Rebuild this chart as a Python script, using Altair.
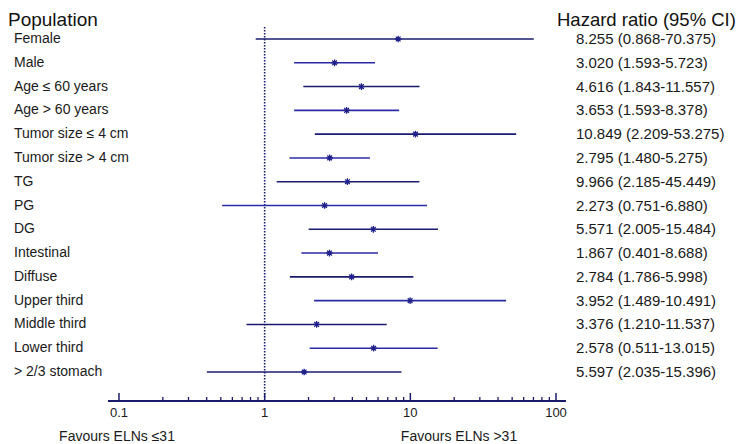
import altair as alt
import pandas as pd

# ---- data ----
labels = ["Female", "Male", "Age ≤ 60 years", "Age > 60 years", "Tumor size ≤ 4 cm",
          "Tumor size > 4 cm", "TG", "PG", "DG", "Intestinal", "Diffuse",
          "Upper third", "Middle third", "Lower third", "> 2/3 stomach"]
hr = [8.255, 3.020, 4.616, 3.653, 10.849, 2.795, 3.70, 2.578, 5.571, 2.784, 3.952,
      9.966, 2.273, 5.597, 1.867]
lo = [0.868, 1.593, 1.843, 1.593, 2.209, 1.480, 1.210, 0.511, 2.005, 1.786, 1.489,
      2.185, 0.751, 2.035, 0.401]
hi = [70.375, 5.723, 11.557, 8.378, 53.275, 5.275, 11.537, 13.015, 15.484, 5.998, 10.491,
      45.449, 6.880, 15.396, 8.688]
hr_text = ["8.255 (0.868-70.375)", "3.020 (1.593-5.723)", "4.616 (1.843-11.557)",
           "3.653 (1.593-8.378)", "10.849 (2.209-53.275)", "2.795 (1.480-5.275)",
           "9.966 (2.185-45.449)", "2.273 (0.751-6.880)", "5.571 (2.005-15.484)",
           "1.867 (0.401-8.688)", "2.784 (1.786-5.998)", "3.952 (1.489-10.491)",
           "3.376 (1.210-11.537)", "2.578 (0.511-13.015)", "5.597 (2.035-15.396)"]
major_ticks = [0.1, 1, 10, 100]
major_labels = ["0.1", "1", "10", "100"]
minor_ticks = [0.2, 0.3, 0.4, 0.5, 0.6, 0.7, 0.8, 0.9,
               2, 3, 4, 5, 6, 7, 8, 9,
               20, 30, 40, 50, 60, 70, 80, 90]
ref_value = [1]
left_title = "Population"
right_title = "Hazard ratio (95% CI)"
favour_left = "Favours ELNs ≤31"
favour_right = "Favours ELNs >31"

df = pd.DataFrame({"label": labels, "hr": hr, "lo": lo, "hi": hi, "text": hr_text})
df["odd"] = df.index % 2

FONT = "Liberation Sans"
NAVY = "#1b1b6e"
BLUE = "#2a2aa8"
TXT = "#1a1a1a"

xs = alt.Scale(type="log", domain=[0.1, 100], range=[111, 548])
ys = alt.Scale(type="point", domain=labels, range=[31, 364], padding=0)

base = alt.Chart(df)
Y = alt.Y("label:N", scale=ys, axis=None)

ci = base.mark_rule(strokeWidth=1.6).encode(
    x=alt.X("lo:Q", scale=xs, axis=None),
    x2="hi:Q",
    y=Y,
    color=alt.condition("datum.odd == 1", alt.value(BLUE), alt.value(NAVY)),
)

ast = "M-1,0L1,0M0,-1L0,1M-0.7,-0.7L0.7,0.7M-0.7,0.7L0.7,-0.7"
pts = base.mark_point(shape=ast, size=45, filled=False, strokeWidth=1.3, color="#20208a",
                      opacity=1).encode(
    x=alt.X("hr:Q", scale=xs, axis=None),
    y=Y,
)

left_txt = base.mark_text(align="left", baseline="middle", fontSize=14, font=FONT,
                          color=TXT).encode(x=alt.value(6), y=Y, text="label:N")
right_txt = base.mark_text(align="left", baseline="middle", fontSize=15, font=FONT,
                           color=TXT).encode(x=alt.value(568), y=Y, text="text:N")

ref = alt.Chart(pd.DataFrame({"v": ref_value})).mark_rule(
    strokeDash=[1.5, 1.5], strokeWidth=1.6, color=NAVY).encode(
    x=alt.X("v:Q", scale=xs, axis=None), y=alt.value(19), y2=alt.value(391))

axis_line = alt.Chart(pd.DataFrame({"v": ref_value})).mark_rule(
    strokeWidth=2, color=NAVY).encode(x=alt.value(100), x2=alt.value(558), y=alt.value(393))

maj = alt.Chart(pd.DataFrame({"t": major_ticks, "lab": major_labels}))
maj_ticks = maj.mark_rule(strokeWidth=1.5, color=NAVY).encode(
    x=alt.X("t:Q", scale=xs, axis=None), y=alt.value(393), y2=alt.value(385))
maj_lab = maj.mark_text(baseline="middle", align="center", fontSize=13, font=FONT,
                        color=TXT).encode(
    x=alt.X("t:Q", scale=xs, axis=None), y=alt.value(405), text="lab:N")

mnr = alt.Chart(pd.DataFrame({"t": minor_ticks})).mark_rule(
    strokeWidth=1.3, color=NAVY).encode(
    x=alt.X("t:Q", scale=xs, axis=None), y=alt.value(393), y2=alt.value(389))

titles = alt.Chart(pd.DataFrame({"a": [left_title], "b": [right_title]}))
t_left = titles.mark_text(align="left", baseline="alphabetic", fontSize=19, font=FONT,
                          color="#111").encode(x=alt.value(0), y=alt.value(18), text="a:N")
t_right = titles.mark_text(align="left", baseline="alphabetic", fontSize=18.5, font=FONT,
                           color="#111").encode(x=alt.value(549), y=alt.value(18), text="b:N")

fav = alt.Chart(pd.DataFrame({"a": [favour_left], "b": [favour_right]}))
f_left = fav.mark_text(align="center", baseline="middle", fontSize=14, font=FONT,
                       color=TXT).encode(x=alt.value(109), y=alt.value(429), text="a:N")
f_right = fav.mark_text(align="center", baseline="middle", fontSize=14, font=FONT,
                        color=TXT).encode(x=alt.value(451), y=alt.value(429), text="b:N")

chart = alt.layer(
    ref, ci, pts, left_txt, right_txt, axis_line, mnr, maj_ticks, maj_lab,
    t_left, t_right, f_left, f_right
).properties(
    width=731, height=436, autosize=alt.AutoSizeParams(type="none"), padding=0
).configure_view(stroke=None)

chart.save("out.html", embed_options={"renderer": "svg", "actions": False})
